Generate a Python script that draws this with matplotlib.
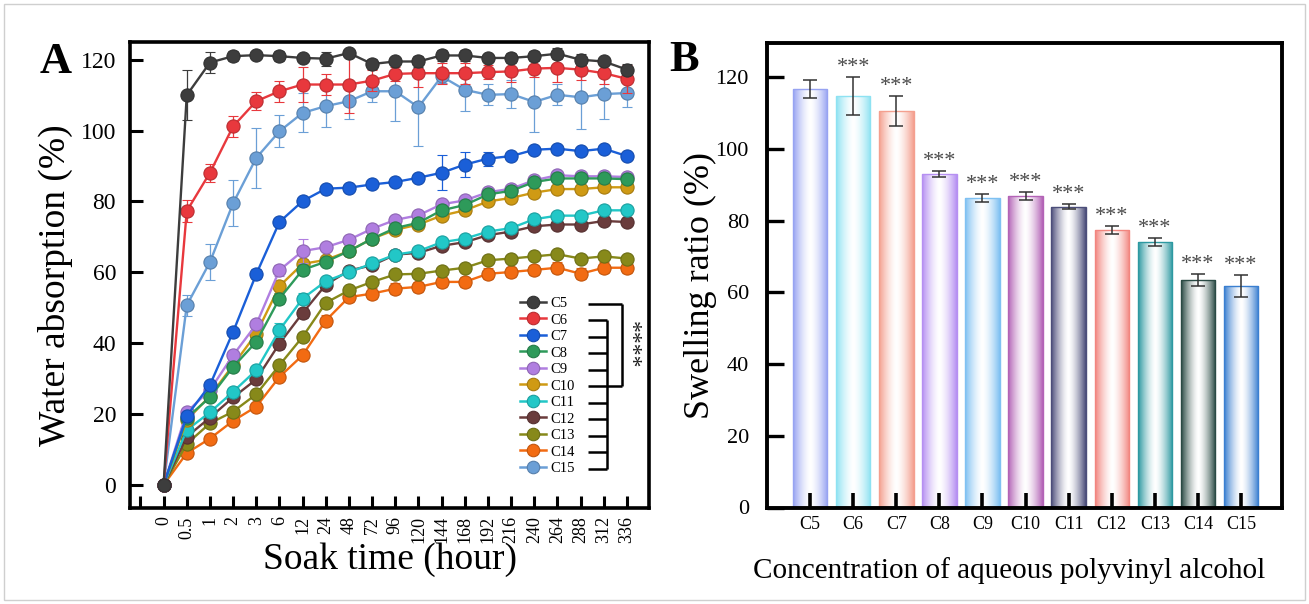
import numpy as np
import matplotlib
matplotlib.use('Agg')
import matplotlib.pyplot as plt
import matplotlib.transforms as mtransforms
from matplotlib.colors import to_rgb
from matplotlib.lines import Line2D
from matplotlib.patches import Rectangle

plt.rcParams['font.family'] = ['Liberation Serif', 'DejaVu Serif']

# ---------------- data: panel A ----------------
time_labels = ['0', '0.5', '1', '2', '3', '6', '12', '24', '48', '72', '96', '120',
               '144', '168', '192', '216', '240', '264', '288', '312', '336']
series_names = ['C5', 'C6', 'C7', 'C8', 'C9', 'C10', 'C11', 'C12', 'C13', 'C14', 'C15']
series_colors = ['#3d3d3d', '#e8383d', '#1a5fd8', '#2e9a5a', '#b07ee0', '#cf9a14',
                 '#22c7c7', '#6a3c3c', '#87891a', '#f26b12', '#6b9fd6']

c5_abs = [0, 110, 119.2, 121, 121.3, 121, 120.5, 120.3, 121.9, 118.8, 119.5, 119.5,
          121.2, 121.2, 120.5, 120.5, 121, 121.7, 120, 119.5, 117.2]
c6_abs = [0, 77.3, 88.1, 101.2, 108.3, 111.1, 113, 113, 113, 114.1, 116, 116.2,
          116.2, 116.2, 116.5, 116.7, 117.5, 117.7, 117.2, 116.2, 114.6]
c7_abs = [0, 19.5, 28.2, 43.2, 59.5, 74.2, 80.1, 83.6, 83.9, 84.8, 85.5, 86.7,
          88.1, 90.4, 92.1, 92.8, 94.6, 94.9, 94.2, 94.9, 92.8]
c8_abs = [0, 19, 24.7, 33.3, 40.4, 52.6, 60.7, 63, 66, 69.5, 72.5, 74,
          77.5, 79, 82, 83, 85.5, 86.5, 86.5, 86.5, 86.3]
c9_abs = [0, 20.6, 26.8, 36.6, 45.3, 60.6, 66, 67.1, 69.2, 72.3, 74.8, 76.1,
          79.2, 80.3, 82.6, 83.6, 86, 87.4, 87.1, 87.1, 86.9]
c10_abs = [0, 18.3, 25.1, 33.8, 42.7, 56.1, 62.4, 63.5, 66, 69.5, 72, 73.5,
           76, 77.5, 80, 81, 82.5, 83.5, 83.5, 84, 84]
c11_abs = [0, 15.5, 20.5, 26.3, 32.4, 43.7, 52.6, 57.5, 60, 62.5, 65, 66,
           68.5, 69.5, 71.5, 72.5, 75, 76, 76, 77.5, 77.5]
c12_abs = [0, 13.6, 19, 24.7, 29.8, 39.9, 48.5, 56.5, 60.5, 62, 65, 65.5,
           67.5, 68.5, 70.5, 71.5, 73, 73.5, 73.5, 74.5, 74.2]
c13_abs = [0, 11.6, 17.4, 20.7, 25.6, 33.8, 41.8, 51.4, 54.9, 57.3, 59.4, 59.6,
           60.5, 61.3, 63.4, 63.9, 64.5, 65.1, 63.9, 64.5, 63.9]
c14_abs = [0, 9, 13.1, 18.1, 22.1, 30.5, 36.6, 46.4, 53, 54, 55.4, 55.9,
           57.3, 57.3, 59.6, 60.1, 60.7, 61.3, 59.6, 61.3, 61.3]
c15_abs = [0, 50.7, 62.9, 79.5, 92.3, 99.8, 105, 106.9, 108.3, 111.1, 111.1, 106.6,
           115.3, 111.5, 110.1, 110.3, 108.1, 110.1, 109.4, 110.3, 110.6]

c5_err = [0, 7, 3, 1.5, 1, 1.5, 1, 2, 1, 1.5, 1, 1.5, 1.5, 1.5, 1, 1.5, 1.5, 1.5, 1.5, 1, 1.5]
c6_err = [0, 3, 2.5, 3, 2.5, 3, 5, 3, 8, 3, 2, 4, 3, 3, 2, 3, 2.5, 4, 3, 3, 4]
c7_err = [0, 1, 1, 1, 1.5, 1, 1, 1, 1, 1, 1, 1, 5, 3.5, 2, 1, 1, 1, 1, 1, 1]
c8_err = [0, 1, 1, 1, 1, 1.5, 1.5, 1, 1, 1, 1, 1, 1, 1, 1, 1, 1, 1, 1, 1, 1]
c9_err = [0, 1, 1, 1, 1, 1.5, 3.5, 1, 1, 1, 1, 1, 1, 1, 1, 1, 1, 1, 1, 1, 1]
c10_err = [0, 1, 1, 1, 1, 1.5, 1.5, 1, 1, 1, 1, 1, 1, 1, 1, 1, 1, 1, 1, 1, 1]
c11_err = [0, 1, 1, 1, 1, 2, 1.5, 1, 1, 1, 1, 1, 1, 1, 1, 1, 1, 1, 1, 1, 1]
c12_err = [0, 1, 1, 1, 1, 1.5, 1.5, 1, 1, 1, 1, 1, 1, 1, 1, 1, 1, 1, 1, 1, 1]
c13_err = [0, 1, 1, 1, 1, 1, 1, 1, 1, 1, 1, 1, 1, 1, 1, 1, 1, 1, 1, 1, 1]
c14_err = [0, 1, 1, 1, 1, 1, 1, 1.5, 1.5, 1.5, 1.5, 1.5, 1.5, 1.5, 1.5, 1.5, 1.5, 1.5, 1.5, 1.5, 1.5]
c15_err = [0, 3, 5, 6.5, 8.5, 4.5, 5.5, 6, 5, 3, 8.5, 11, 2, 6, 3, 4, 8.5, 3, 9, 7, 4]

series_values = [c5_abs, c6_abs, c7_abs, c8_abs, c9_abs, c10_abs, c11_abs,
                 c12_abs, c13_abs, c14_abs, c15_abs]
series_errors = [c5_err, c6_err, c7_err, c8_err, c9_err, c10_err, c11_err,
                 c12_err, c13_err, c14_err, c15_err]

# ---------------- data: panel B ----------------
conc_labels = ['C5', 'C6', 'C7', 'C8', 'C9', 'C10', 'C11', 'C12', 'C13', 'C14', 'C15']
swelling = [116.8, 114.8, 110.6, 93.0, 86.3, 86.9, 83.8, 77.4, 74.0, 63.4, 61.8]
swelling_err = [2.5, 5.3, 4.2, 0.9, 1.2, 1.1, 0.7, 1.1, 1.2, 1.7, 3.1]
bar_colors = ['#97a3f2', '#8ee2f2', '#f4a08f', '#b690f2', '#7fc1f2', '#b363b6',
              '#4c4e7a', '#f2857f', '#2d99a1', '#2a4a44', '#3a7fd0']
bar_marks = ['', '***', '***', '***', '***', '***', '***', '***', '***', '***', '***']

W, H = 1309, 604
fig = plt.figure(figsize=(W / 100, H / 100), dpi=100)
fig.patch.set_facecolor('white')
fig.patches.append(Rectangle((0.003, 0.006), 0.994, 0.988, transform=fig.transFigure,
                             fill=False, ec='#cfcfcf', lw=1.0))


def darker(c, f=0.7):
    r, g, b = to_rgb(c)
    return (r * f, g * f, b * f)


# ================= Panel A =================
ax = fig.add_axes([130 / W, 1 - 508 / H, 519 / W, 466 / H])
x = np.arange(len(time_labels))
hl = mtransforms.ScaledTranslation(-1.6 / 72, 1.6 / 72, fig.dpi_scale_trans)
n = len(series_names)
for k in range(n - 1, -1, -1):
    c = series_colors[k]
    z = 3 + (n - k) * 0.1
    ax.errorbar(x, series_values[k], yerr=series_errors[k], color=c, ecolor=c,
                elinewidth=0.9, capsize=3.5, capthick=0.9, lw=1.7, marker='o',
                ms=9.5, mfc=c, mec=darker(c, 0.8), mew=0.8, zorder=z)
    ax.plot(x, series_values[k], 'o', ms=3.2, color='white', alpha=0.55, mew=0,
            transform=ax.transData + hl, zorder=z + 0.01)

ax.set_xlim(-1.45, 20.95)
ax.set_ylim(-6.5, 125)
ax.set_xticks(np.arange(-1, len(time_labels)))
ax.set_xticklabels([''] + time_labels, rotation=90)
ax.set_yticks(np.arange(0, 121, 20))
ax.tick_params(axis='x', direction='in', length=9, width=2.2, labelsize=13, pad=6)
ax.tick_params(axis='y', direction='in', length=9, width=2.2, labelsize=17, pad=10)
for sp in ax.spines.values():
    sp.set_linewidth(2.6)

ax.set_ylabel('Water absorption (%)', fontsize=27)
ax.yaxis.label.set_verticalalignment('center')
ax.yaxis.set_label_coords(-0.143, 0.478)
ax.set_xlabel('Soak time (hour)', fontsize=27)
ax.xaxis.label.set_verticalalignment('center')
ax.xaxis.set_label_coords(0.501, -0.110)

handles = [Line2D([0], [0], color=c, lw=1.8, marker='o', ms=9, mfc=c,
                  mec=darker(c, 0.8), mew=0.8) for c in series_colors]
leg = ax.legend(handles, series_names, loc='upper left', bbox_to_anchor=(0.751, 0.453),
                frameon=False, fontsize=10.5, handlelength=1.8, handletextpad=0.3,
                labelspacing=0.225, borderpad=0, borderaxespad=0)

fig.text(56 / W, 1 - 62 / H, 'A', fontsize=32, fontweight='bold', ha='center', va='center')

# ================= Panel B =================
ax2 = fig.add_axes([767 / W, 1 - 507.5 / H, 515 / W, 464.5 / H])
xb = np.arange(len(conc_labels))
bars = ax2.bar(xb, swelling, width=0.8, facecolor='none', edgecolor=bar_colors,
               linewidth=1.0, zorder=1.2)
t = np.linspace(0, 1, 80)
prof = np.abs(2 * t - 1) ** 1.5
for bar, col in zip(bars, bar_colors):
    rgb = np.array(to_rgb(col))
    img = (1 - prof)[:, None] * np.ones(3)[None, :] + prof[:, None] * rgb[None, :]
    x0, w, h = bar.get_x(), bar.get_width(), bar.get_height()
    im = ax2.imshow(img[None, :, :], extent=(x0, x0 + w, 0, h), aspect='auto',
                    interpolation='bilinear', zorder=1.0)
    im.set_clip_path(bar)
ax2.xaxis.set_zorder(5)
ax2.yaxis.set_zorder(5)
ax2.errorbar(xb, swelling, yerr=swelling_err, fmt='none', ecolor='#333333',
             elinewidth=1.1, capsize=5, capthick=1.1, zorder=4)
for i in range(len(xb)):
    if bar_marks[i]:
        ax2.annotate(bar_marks[i], (xb[i], swelling[i] + swelling_err[i]),
                     xytext=(0, 0), textcoords='offset points', ha='center',
                     va='bottom', fontsize=16, color='#4a4a4a')

ax2.set_xlim(-1.0, 10.95)
ax2.set_ylim(0, 129.5)
ax2.set_xticks(xb)
ax2.set_xticklabels(conc_labels)
ax2.set_yticks(np.arange(0, 121, 20))
ax2.tick_params(axis='x', direction='in', length=11, width=2.6, labelsize=13, pad=6,
                color='black')
ax2.tick_params(axis='y', direction='in', length=12, width=2.4, labelsize=16, pad=13)
for sp in ax2.spines.values():
    sp.set_linewidth(2.8)
    sp.set_zorder(6)
ax2.set_ylabel('Swelling ratio (%)', fontsize=26)
ax2.yaxis.label.set_verticalalignment('center')
ax2.yaxis.set_label_coords(-0.130, 0.479)
ax2.set_xlabel('Concentration of aqueous polyvinyl alcohol', fontsize=21)
ax2.xaxis.label.set_verticalalignment('center')
ax2.xaxis.set_label_coords(0.47, -0.136)

fig.text(684 / W, 1 - 60 / H, 'B', fontsize=32, fontweight='bold', ha='center', va='center')

# ---------- significance brackets beside the legend of panel A ----------
fig.canvas.draw()
renderer = fig.canvas.get_renderer()
inv = ax.transAxes.inverted()
ys = []
for txt in leg.get_texts():
    bb = txt.get_window_extent(renderer)
    ys.append(inv.transform((bb.x0, 0.5 * (bb.y0 + bb.y1)))[1])
x_start, x_inner, x_outer = 0.8825, 0.919, 0.948
kw = dict(transform=ax.transAxes, color='black', lw=1.8, clip_on=False,
          solid_capstyle='butt', zorder=6)
for yy in ys[1:]:
    ax.plot([x_start, x_inner], [yy, yy], **kw)
ax.plot([x_inner, x_inner], [ys[1], ys[-1]], **kw)
ax.plot([x_start, x_outer], [ys[0], ys[0]], **kw)
ax.plot([x_outer, x_outer], [ys[0], ys[5]], **kw)
ax.plot([x_inner, x_outer], [ys[5], ys[5]], **kw)
ax.text(0.965, 0.5 * (ys[0] + ys[5]), '****', rotation=-90, ha='center', va='center',
        fontsize=17, transform=ax.transAxes, color='#222222')

fig.savefig('out.png', dpi=100)
